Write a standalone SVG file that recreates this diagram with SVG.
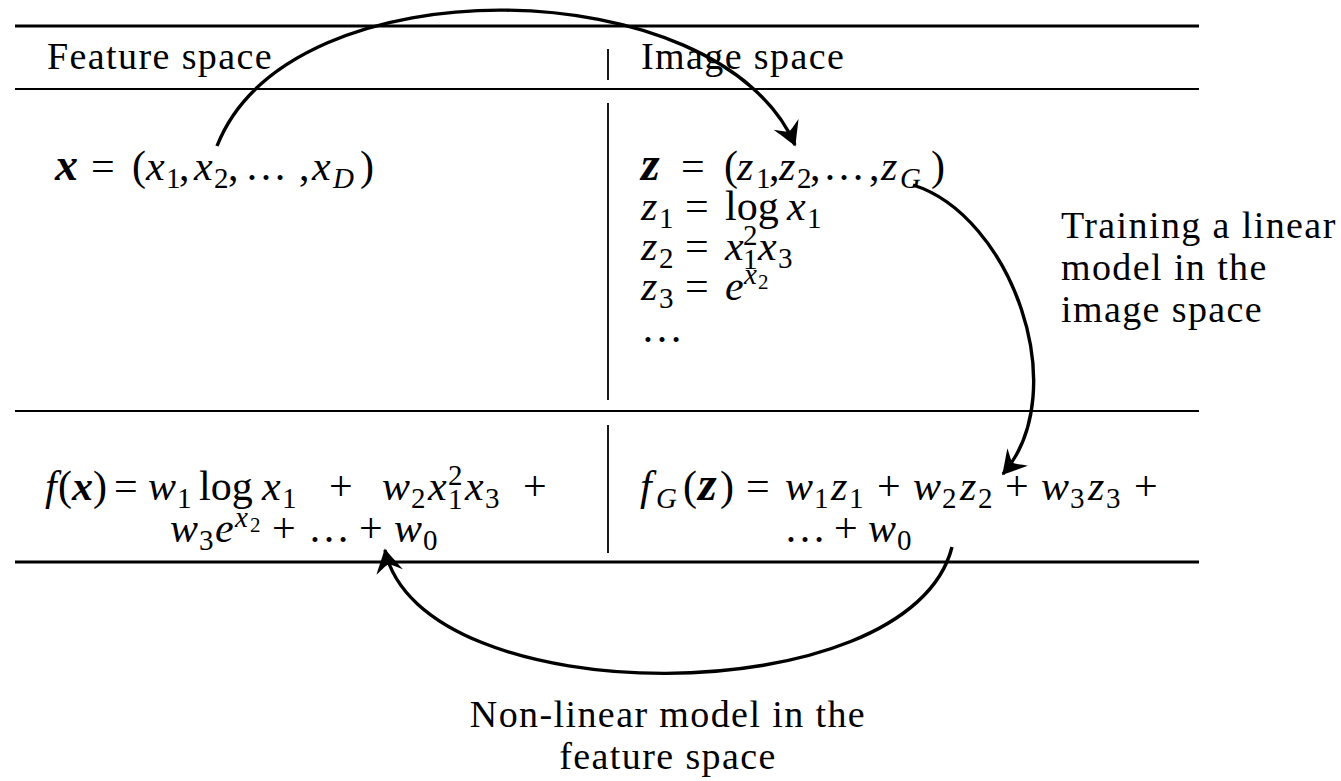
<svg xmlns="http://www.w3.org/2000/svg" width="1341" height="781" viewBox="0 0 1341 781">
<style>
text{font-family:"Liberation Serif","Times New Roman",serif;fill:#000}
.t{font-size:38px;letter-spacing:1.4px}
.m{font-size:42px}
.i{font-style:italic}
.bi{font-style:italic;font-weight:bold}
.s{font-size:29px}
.ss{font-size:21px}
.rule{stroke:#000;fill:none}
.conn{stroke:#000;stroke-width:3.4;fill:none}
</style>
<defs>
<marker id="ah" markerUnits="userSpaceOnUse" markerWidth="30" markerHeight="30" refX="0" refY="0" orient="auto" viewBox="-16 -10 18 20" overflow="visible">
<path d="M1,0 C-3,-2 -8,-5 -15,-9 C-12,-4 -10,-1.5 -10,0 C-10,1.5 -12,4 -15,9 C-8,5 -3,2 1,0 Z" fill="#000"/>
</marker>
</defs>
<g id="table">
<line class="rule" x1="15" y1="26" x2="1199" y2="26" stroke-width="3"/>
<line class="rule" x1="15" y1="89" x2="1199" y2="89" stroke-width="1.8"/>
<line class="rule" x1="15" y1="411" x2="1199" y2="411" stroke-width="1.8"/>
<line class="rule" x1="15" y1="562" x2="1199" y2="562" stroke-width="3"/>
<line class="rule" x1="608" y1="49" x2="608" y2="80" stroke-width="1.8"/>
<line class="rule" x1="608" y1="103" x2="608" y2="400" stroke-width="1.8"/>
<line class="rule" x1="608" y1="425" x2="608" y2="553" stroke-width="1.8"/>
</g>
<g id="feature-header"><text class="t" x="47" y="69">Feature space</text></g>
<g id="image-header"><text class="t" x="641" y="69">Image space</text></g>
<g id="x-def">
<text class="m"><tspan class="bi" x="55" y="180" style="font-size:46px">x</tspan><tspan x="91" y="180">=</tspan><tspan x="132" y="180">(</tspan><tspan class="i" x="146" y="180">x</tspan><tspan class="s" x="166" y="188">1</tspan><tspan x="179" y="180">,</tspan><tspan class="i" x="194" y="180">x</tspan><tspan class="s" x="214" y="188">2</tspan><tspan x="228" y="180">,</tspan><tspan x="245" y="180">…</tspan><tspan x="299" y="180">,</tspan><tspan class="i" x="312" y="180">x</tspan><tspan class="s i" x="333" y="188">D</tspan><tspan x="360" y="180">)</tspan></text>
</g>
<g id="z-def">
<text class="m"><tspan class="bi" x="641" y="180" style="font-size:48px">z</tspan><tspan x="681" y="180">=</tspan><tspan x="724" y="180">(</tspan><tspan class="i" x="737" y="180">z</tspan><tspan class="s" x="756" y="188">1</tspan><tspan x="769" y="180">,</tspan><tspan class="i" x="779" y="180">z</tspan><tspan class="s" x="797" y="188">2</tspan><tspan x="810" y="180">,</tspan><tspan x="823" y="180">…</tspan><tspan x="869" y="180">,</tspan><tspan class="i" x="881" y="180">z</tspan><tspan class="s i" x="900" y="188">G</tspan><tspan x="931" y="180">)</tspan></text>
<text class="m"><tspan class="i" x="641" y="220">z</tspan><tspan class="s" x="659" y="228">1</tspan><tspan x="685" y="220">=</tspan><tspan x="725" y="220">log</tspan><tspan class="i" x="787" y="220">x</tspan><tspan class="s" x="807" y="228">1</tspan></text>
<text class="m"><tspan class="i" x="641" y="260">z</tspan><tspan class="s" x="659" y="268">2</tspan><tspan x="685" y="260">=</tspan><tspan class="i" x="725" y="260">x</tspan><tspan class="s" x="743" y="269">1</tspan><tspan class="s" x="743" y="245">2</tspan><tspan class="i" x="758" y="260">x</tspan><tspan class="s" x="778" y="268">3</tspan></text>
<text class="m"><tspan class="i" x="641" y="300">z</tspan><tspan class="s" x="659" y="308">3</tspan><tspan x="685" y="300">=</tspan><tspan class="i" x="725" y="300">e</tspan><tspan class="s i" x="744" y="284">x</tspan><tspan class="ss" x="758" y="289">2</tspan></text>
<text class="m" x="641" y="342">…</text>
</g>
<g id="f-model">
<text class="m"><tspan class="i" x="45" y="500">f</tspan><tspan x="58" y="500">(</tspan><tspan class="bi" x="72" y="500">x</tspan><tspan x="93" y="500">)</tspan><tspan x="114" y="500">=</tspan><tspan class="i" x="148" y="500">w</tspan><tspan class="s" x="177" y="508">1</tspan><tspan x="199" y="500">log</tspan><tspan class="i" x="262" y="500">x</tspan><tspan class="s" x="282" y="508">1</tspan><tspan x="329" y="500">+</tspan><tspan class="i" x="382" y="500">w</tspan><tspan class="s" x="411" y="508">2</tspan><tspan class="i" x="428" y="500">x</tspan><tspan class="s" x="448" y="509">1</tspan><tspan class="s" x="448" y="485">2</tspan><tspan class="i" x="465" y="500">x</tspan><tspan class="s" x="485" y="508">3</tspan><tspan x="523" y="500">+</tspan></text>
<text class="m"><tspan class="i" x="170" y="542">w</tspan><tspan class="s" x="199" y="550">3</tspan><tspan class="i" x="215" y="542">e</tspan><tspan class="s i" x="235" y="527">x</tspan><tspan class="ss" x="250" y="532">2</tspan><tspan x="272" y="542">+</tspan><tspan x="308" y="542">…</tspan><tspan x="359" y="542">+</tspan><tspan class="i" x="394" y="542">w</tspan><tspan class="s" x="423" y="550">0</tspan></text>
</g>
<g id="fg-model">
<text class="m"><tspan class="i" x="640" y="500">f</tspan><tspan class="s i" x="656" y="508">G</tspan><tspan x="683" y="500">(</tspan><tspan class="bi" x="698" y="500" style="font-size:48px">z</tspan><tspan x="720" y="500">)</tspan><tspan x="746" y="500">=</tspan><tspan class="i" x="785" y="500">w</tspan><tspan class="s" x="814" y="508">1</tspan><tspan class="i" x="831" y="500">z</tspan><tspan class="s" x="849" y="508">1</tspan><tspan x="877" y="500">+</tspan><tspan class="i" x="913" y="500">w</tspan><tspan class="s" x="942" y="508">2</tspan><tspan class="i" x="960" y="500">z</tspan><tspan class="s" x="978" y="508">2</tspan><tspan x="1005" y="500">+</tspan><tspan class="i" x="1041" y="500">w</tspan><tspan class="s" x="1070" y="508">3</tspan><tspan class="i" x="1088" y="500">z</tspan><tspan class="s" x="1106" y="508">3</tspan><tspan x="1134" y="500">+</tspan></text>
<text class="m"><tspan x="784" y="542">…</tspan><tspan x="834" y="542">+</tspan><tspan class="i" x="868" y="542">w</tspan><tspan class="s" x="897" y="550">0</tspan></text>
</g>
<g id="label-training">
<text class="t" x="1061" y="238">Training a linear</text>
<text class="t" x="1061" y="280">model in the</text>
<text class="t" x="1061" y="322">image space</text>
</g>
<g id="label-nonlinear">
<text class="t" x="668" y="727" text-anchor="middle">Non-linear model in the</text>
<text class="t" x="668" y="769" text-anchor="middle">feature space</text>
</g>
<g id="connectors">
<path class="conn" d="M217,146 C290,-40 720,-30 795,145" marker-end="url(#ah)"/>
<path class="conn" d="M913,185 C1010,215 1075,390 1003,474" marker-end="url(#ah)"/>
<path class="conn" d="M952,547 C910,715 420,715 385,550" marker-end="url(#ah)"/>
</g>
</svg>
